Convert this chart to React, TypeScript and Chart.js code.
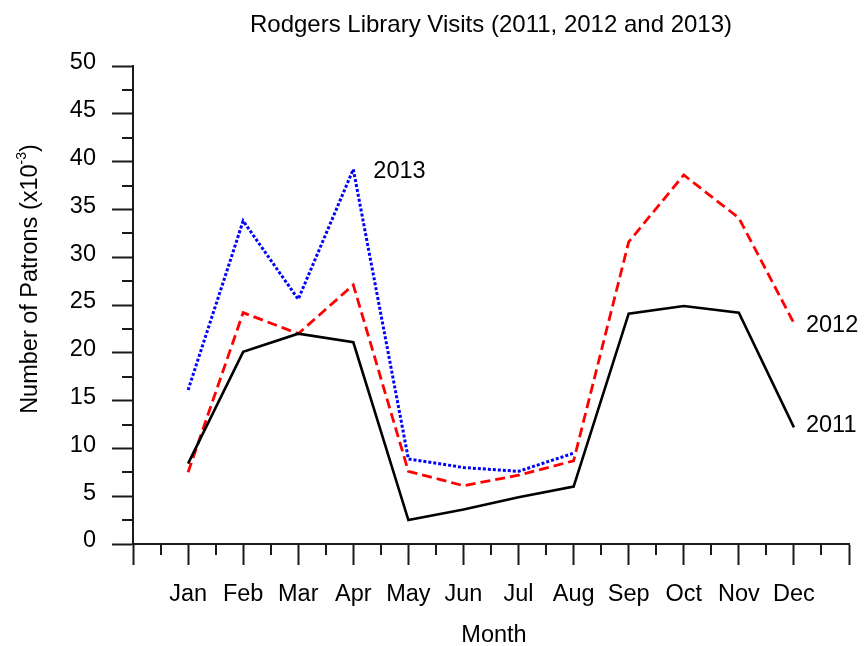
import { useEffect, useRef } from 'react';
import { Chart, registerables } from 'chart.js';

Chart.register(...registerables);

const months = ['Jan', 'Feb', 'Mar', 'Apr', 'May', 'Jun', 'Jul', 'Aug', 'Sep', 'Oct', 'Nov', 'Dec'];
const visits2011 = [8.4, 20.1, 22.0, 21.1, 2.5, 3.6, 4.9, 6.0, 24.1, 24.9, 24.2, 12.2];
const visits2012 = [7.5, 24.2, 22.0, 27.1, 7.6, 6.1, 7.2, 8.7, 31.6, 38.6, 34.1, 23.1];
const visits2013 = [16.1, 33.8, 25.6, 39.2, 8.9, 8.0, 7.6, 9.5];
const yTicks = [0, 5, 10, 15, 20, 25, 30, 35, 40, 45, 50];

const FONT = '"Liberation Sans", Arial, Helvetica, sans-serif';
const AXIS = '#1a1a1a';

const toPoints = (vals: number[]) => vals.map((v, i) => ({ x: i + 1, y: v }));

export default function App() {
  const ref = useRef<HTMLCanvasElement>(null);

  useEffect(() => {
    const el = ref.current;
    if (!el) return;

    const overlay = {
      id: 'overlay',
      afterDraw(chart: any) {
        const ctx = chart.ctx as CanvasRenderingContext2D;
        const xs = chart.scales.x;
        const ys = chart.scales.y;
        const area = chart.chartArea;
        ctx.save();
        // minor ticks
        ctx.strokeStyle = AXIS;
        ctx.lineWidth = 2;
        ctx.beginPath();
        for (let i = 0; i < months.length + 1; i++) {
          const px = Math.round(xs.getPixelForValue(i + 0.5));
          ctx.moveTo(px, area.bottom);
          ctx.lineTo(px, area.bottom + 11);
        }
        for (let i = 0; i < yTicks.length - 1; i++) {
          const py = Math.round(ys.getPixelForValue(yTicks[i] + 2.5));
          ctx.moveTo(area.left, py);
          ctx.lineTo(area.left - 11, py);
        }
        ctx.stroke();

        ctx.fillStyle = '#000';
        // title
        ctx.font = `24px ${FONT}`;
        ctx.textAlign = 'center';
        ctx.textBaseline = 'alphabetic';
        ctx.fillText('Rodgers Library Visits (2011, 2012 and 2013)', (area.left + area.right) / 2, 32);
        // x title
        ctx.font = `23.5px ${FONT}`;
        ctx.fillText('Month', (area.left + area.right) / 2 + 3, 642);

        // series labels
        ctx.textAlign = 'left';
        ctx.textBaseline = 'middle';
        ctx.fillText('2013', xs.getPixelForValue(4) + 20, ys.getPixelForValue(visits2013[3]) + 2);
        ctx.fillText('2012', xs.getPixelForValue(12) + 12, ys.getPixelForValue(visits2012[11]) + 2);
        ctx.fillText('2011', xs.getPixelForValue(12) + 12, ys.getPixelForValue(visits2011[11]) - 2);

        // y title with superscript
        const main = 'Number of Patrons (x10';
        const sup = '-3';
        const close = ')';
        ctx.font = `23.5px ${FONT}`;
        const wMain = ctx.measureText(main).width;
        const wClose = ctx.measureText(close).width;
        ctx.font = `14px ${FONT}`;
        const wSup = ctx.measureText(sup).width;
        const total = wMain + wSup + wClose;
        ctx.translate(37, 279);
        ctx.rotate(-Math.PI / 2);
        ctx.textAlign = 'left';
        ctx.textBaseline = 'alphabetic';
        let cx = -total / 2;
        ctx.font = `23.5px ${FONT}`;
        ctx.fillText(main, cx, 0);
        cx += wMain;
        ctx.font = `14px ${FONT}`;
        ctx.fillText(sup, cx, -11);
        cx += wSup;
        ctx.font = `23.5px ${FONT}`;
        ctx.fillText(close, cx, 0);
        ctx.restore();
      },
    };

    const chart = new Chart(el, {
      type: 'line',
      data: {
        datasets: [
          {
            label: '2011',
            data: toPoints(visits2011),
            borderColor: '#000000',
            borderWidth: 2.6,
            pointRadius: 0,
            tension: 0,
            fill: false,
          },
          {
            label: '2012',
            data: toPoints(visits2012),
            borderColor: '#ff0000',
            borderWidth: 2.8,
            borderDash: [10, 5],
            pointRadius: 0,
            tension: 0,
            fill: false,
          },
          {
            label: '2013',
            data: toPoints(visits2013),
            borderColor: '#0000ff',
            borderWidth: 3,
            borderDash: [3, 2],
            pointRadius: 0,
            tension: 0,
            fill: false,
          },
        ],
      },
      options: {
        responsive: false,
        maintainAspectRatio: false,
        animation: false,
        devicePixelRatio: 1,
        layout: { padding: { top: 66, right: 15, left: 0, bottom: 0 } },
        plugins: {
          legend: { display: false },
          title: { display: false },
          tooltip: { enabled: false },
        },
        scales: {
          x: {
            type: 'linear',
            min: 0,
            max: 13,
            afterFit: (s: any) => {
              s.height = 102;
            },
            grid: {
              drawOnChartArea: false,
              drawTicks: true,
              tickLength: 21,
              tickWidth: 2,
              tickColor: AXIS,
            },
            border: { color: AXIS, width: 2 },
            ticks: {
              stepSize: 1,
              autoSkip: false,
              maxRotation: 0,
              minRotation: 0,
              padding: 15,
              color: '#000',
              font: { family: FONT, size: 23.5 },
              callback: (v: any) => months[Number(v) - 1] ?? '',
            },
          },
          y: {
            type: 'linear',
            min: 0,
            max: 50,
            afterFit: (s: any) => {
              s.width = 133;
            },
            grid: {
              drawOnChartArea: false,
              drawTicks: true,
              tickLength: 21,
              tickWidth: 2,
              tickColor: AXIS,
            },
            border: { color: AXIS, width: 2 },
            ticks: {
              stepSize: 5,
              padding: 16,
              labelOffset: -3,
              color: '#000',
              font: { family: FONT, size: 23.5 },
              callback: (v: any) => (yTicks.includes(Number(v)) ? String(v) : ''),
            },
          },
        },
      },
      plugins: [overlay],
    });

    return () => chart.destroy();
  }, []);

  return (
    <canvas
      ref={ref}
      width={864}
      height={646}
      style={{ position: 'fixed', left: 0, top: 0, width: 864, height: 646, background: '#fff' }}
    />
  );
}
